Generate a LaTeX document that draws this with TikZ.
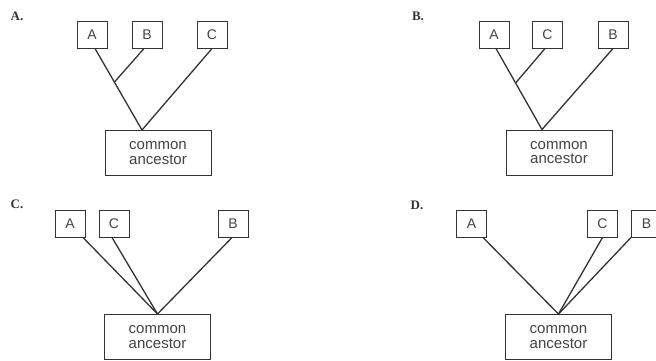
\documentclass[tikz,border=0pt]{standalone}
\usepackage{fontspec}
\setmainfont{Liberation Serif}
\newfontfamily\boxfont{Liberation Sans}
\definecolor{ink}{HTML}{333333}
\definecolor{txt}{HTML}{444444}
\begin{document}
\begin{tikzpicture}[x=1pt,y=1pt,
  leaf/.style={draw=ink, line width=1pt, minimum width=30pt, minimum height=27pt, inner sep=0pt,
    text=txt, font=\boxfont\fontsize{14}{14}\selectfont},
  ancbox/.style={draw=ink, line width=1pt, minimum width=106pt, minimum height=45pt, inner sep=0pt,
    align=center, text=txt, font=\boxfont\fontsize{15}{14.5}\selectfont},
  plabel/.style={font=\fontsize{13}{13}\selectfont\bfseries, text=ink, inner sep=0pt},
  branch/.style={draw=ink, line width=1.3pt}]
\useasboundingbox (0,0) rectangle (656,-360);
\clip (0,0) rectangle (656,-360);
\fill[white] (0,0) rectangle (656,-360);

% ---------- A ----------
\node[plabel] (lA) at (17,-16) {A.};
\node[leaf] (Aa) at (92,-34.5) {A};
\node[leaf] (Ab) at (147,-34.5) {B};
\node[leaf] (Ac) at (212,-34.5) {C};
\node[ancbox] (Aanc) at (158,-153) {common\\ancestor};
\coordinate (Ar) at ([xshift=-16pt]Aanc.north);
\coordinate (Aj) at (114.5,-82);
\draw[branch] ([xshift=3pt]Aa.south) -- (Ar);
\draw[branch] ([xshift=-3pt]Ab.south) -- (Aj);
\draw[branch] (Ac.south) -- (Ar);

% ---------- B ----------
\node[plabel] (lB) at (418,-16) {B.};
\node[leaf] (Ba) at (494,-34.5) {A};
\node[leaf] (Bc) at (547.5,-34.5) {C};
\node[leaf] (Bb) at (613,-34.5) {B};
\node[ancbox] (Banc) at (559,-152.5) {common\\ancestor};
\coordinate (Br) at ([xshift=-17pt]Banc.north);
\coordinate (Bj) at (515.6,-83);
\draw[branch] ([xshift=2pt]Ba.south) -- (Br);
\draw[branch] ([xshift=-2.5pt]Bc.south) -- (Bj);
\draw[branch] (Bb.south) -- (Br);

% ---------- C ----------
\node[plabel] (lC) at (17,-204) {C.};
\node[leaf] (Ca) at (70,-223.5) {A};
\node[leaf] (Cc) at (114,-223.5) {C};
\node[leaf] (Cb) at (233,-223.5) {B};
\node[ancbox] (Canc) at (157.5,-337) {common\\ancestor};
\coordinate (Cr) at (Canc.north);
\draw[branch] ([xshift=13pt]Ca.south) -- (Cr);
\draw[branch] ([xshift=-2pt]Cc.south) -- (Cr);
\draw[branch] ([xshift=-1pt]Cb.south) -- (Cr);

% ---------- D ----------
\node[plabel] (lD) at (417,-205) {D.};
\node[leaf] (Da) at (471.5,-223.5) {A};
\node[leaf] (Dc) at (602.5,-223.5) {C};
\node[leaf] (Db) at (646.5,-223.5) {B};
\node[ancbox] (Danc) at (558.5,-337) {common\\ancestor};
\coordinate (Dr) at (Danc.north);
\draw[branch] ([xshift=11.5pt]Da.south) -- (Dr);
\draw[branch] (Dc.south) -- (Dr);
\draw[branch] (Db.south west) -- (Dr);
\end{tikzpicture}
\end{document}
